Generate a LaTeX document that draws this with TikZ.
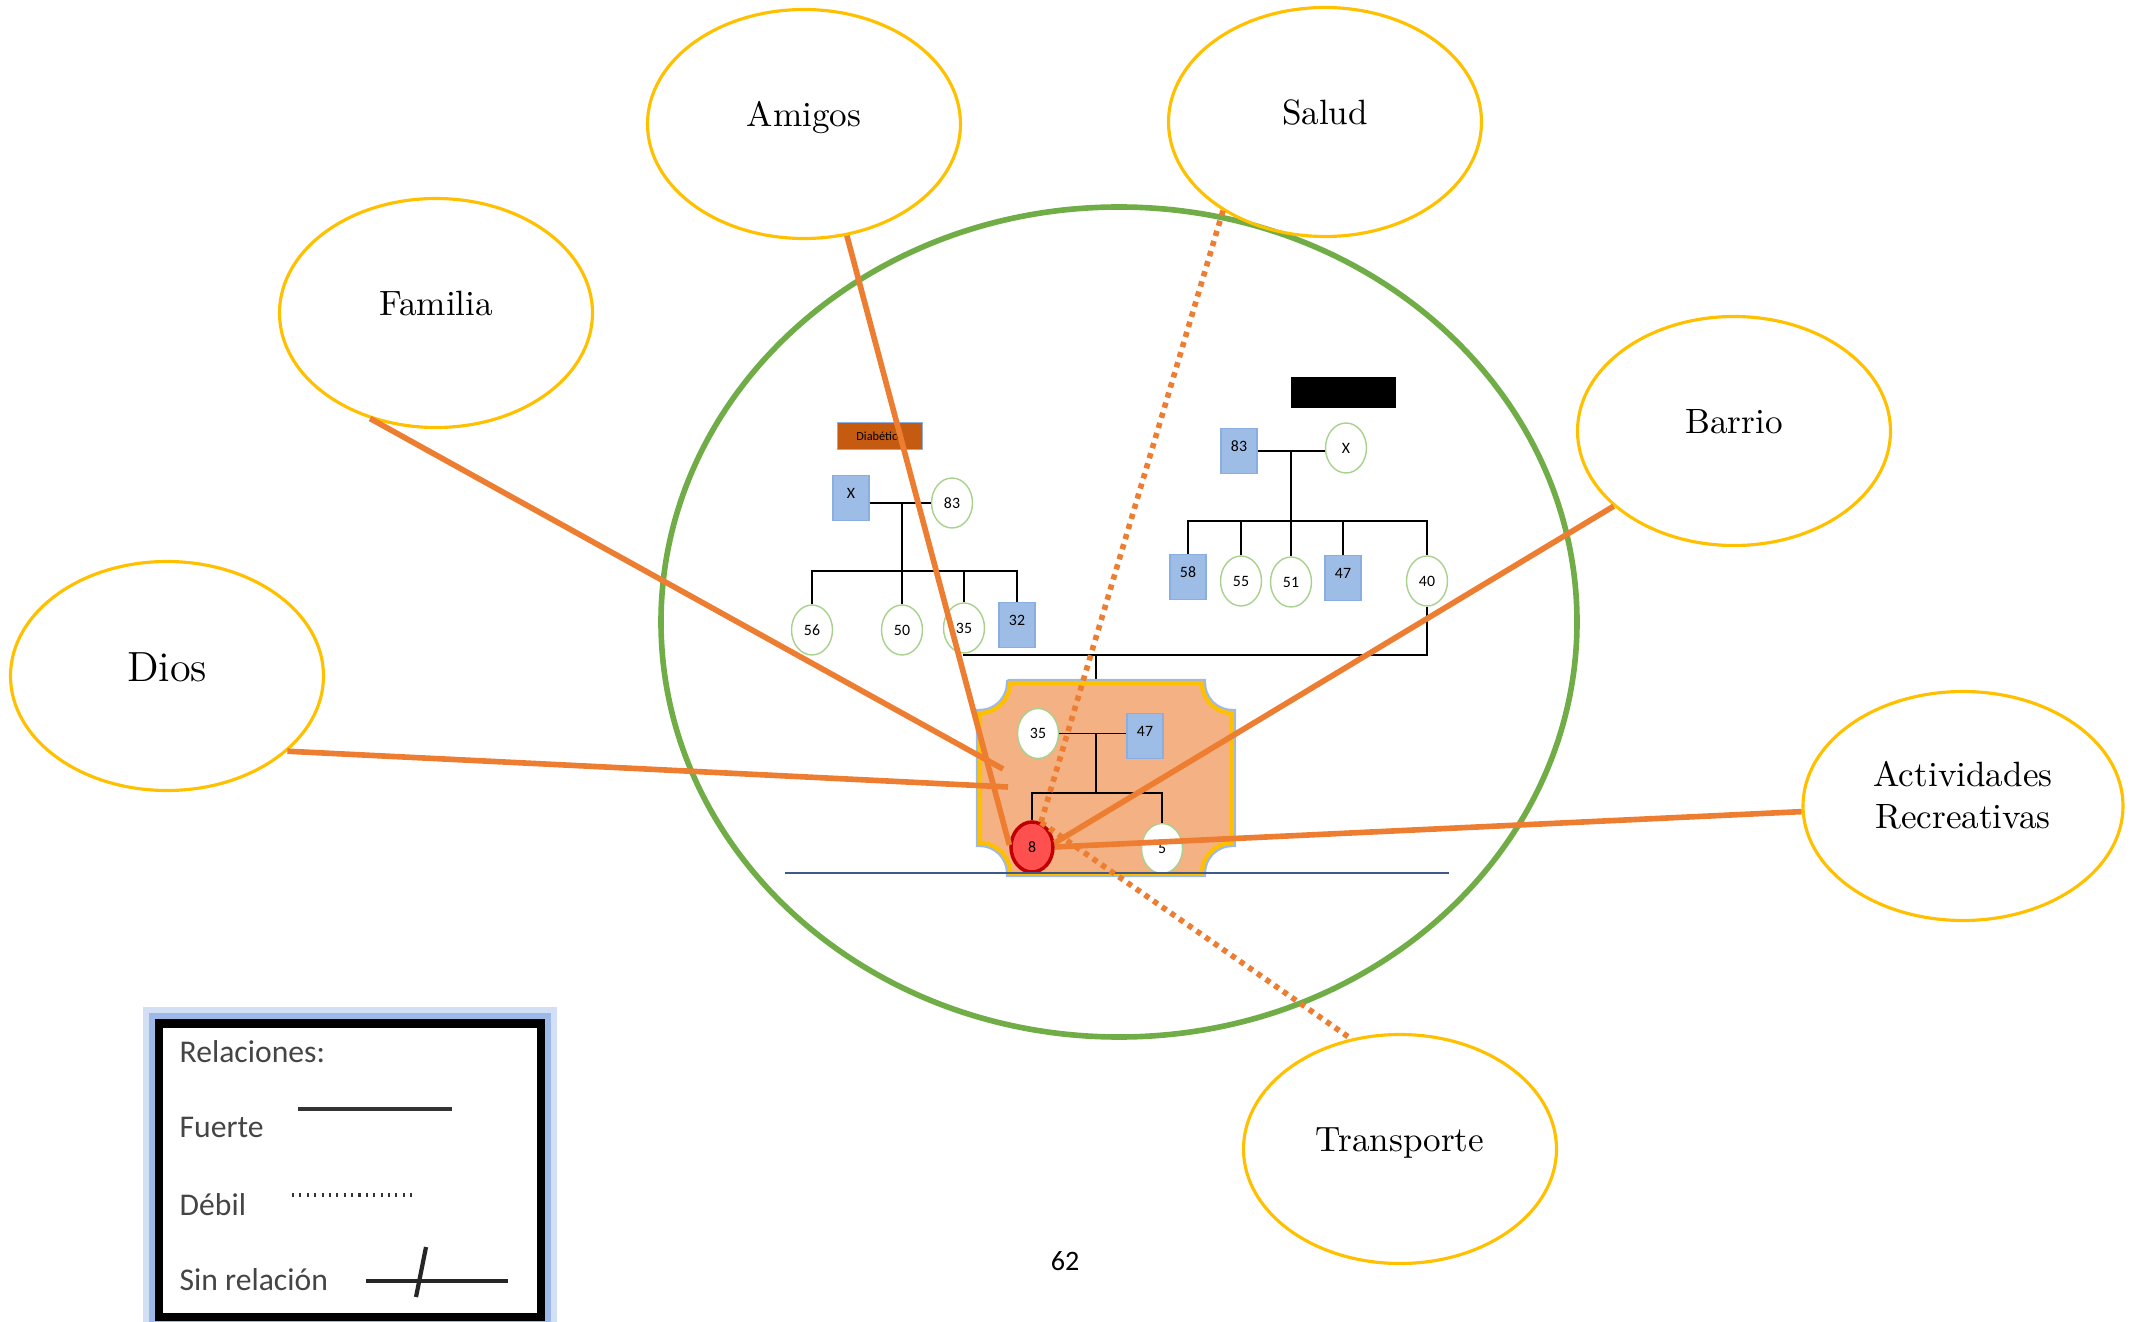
\documentclass[tikz,border=0pt]{standalone}
\usepackage{fontspec}
\newfontfamily\calibri{Carlito}
\usepackage{tikz}
\usetikzlibrary{shapes.geometric}
\definecolor{ecoorange}{HTML}{ED7D31}
\definecolor{ecogold}{HTML}{FFC000}
\definecolor{ecogreen}{HTML}{70AD47}
\definecolor{famfill}{HTML}{F4B183}
\definecolor{maleblue}{HTML}{9DBDE6}
\definecolor{maleedge}{HTML}{8AAEDF}
\definecolor{femedge}{HTML}{A9D18E}
\definecolor{egored}{HTML}{FF5050}
\definecolor{egoedge}{HTML}{C00000}
\definecolor{diabfill}{HTML}{C55A11}
\definecolor{groundline}{HTML}{3F5A8A}
\definecolor{glow}{HTML}{9DB9E8}
\definecolor{legendgray}{HTML}{454545}

\begin{document}
\begin{tikzpicture}[
  system/.style={draw=ecogold,ellipse,line width=0.9pt,minimum width=3.13cm,minimum height=2.29cm,inner sep=0pt,align=center,text height=7pt,text depth=5.6pt},
  male/.style={draw=maleedge,fill=maleblue,rectangle,line width=0.4pt,minimum width=0.36cm,minimum height=0.45cm,inner sep=0pt,text height=2.9pt,text depth=2.7pt,font=\calibri\fontsize{4.5}{5}\selectfont},
  female/.style={draw=femedge,fill=white,ellipse,line width=0.4pt,minimum width=0.41cm,minimum height=0.50cm,inner sep=0pt,font=\calibri\fontsize{4.5}{5}\selectfont},
  kin/.style={line width=0.5pt,black},
  strongtie/.style={ecoorange,line width=1.6pt},
  weaktie/.style={ecoorange,line width=1.6pt,dash pattern=on 1.5pt off 1.5pt},
  legendtxt/.style={anchor=base west,font=\calibri\fontsize{9}{11}\selectfont,text=legendgray,inner sep=0pt}
]
\useasboundingbox (0,0) rectangle (21.38,13.21);

% Ecomap circle
\node[draw=ecogreen,line width=1.6pt,ellipse,minimum width=9.16cm,minimum height=8.30cm,inner sep=0pt] (ecomap) at (11.19,6.99) {};

% Paternal side
\node[fill=diabfill,draw=maleedge,minimum width=0.85cm,minimum height=0.27cm,inner sep=0pt,font=\calibri\fontsize{3.5}{4}\selectfont] (diab) at (8.80,8.85) {Diabético};
\node[male] (lx) at (8.51,8.23) {X};
\node[female] (l83) at (9.52,8.18) {83};
\coordinate (lsib) at (9.02,7.50);
\node[female] (l56) at (8.12,6.91) {56};
\node[female] (l50) at (9.02,6.91) {50};
\node[female] (l35) at (9.64,6.93) {35};
\node[male] (l32) at (10.17,6.96) {32};
\draw[kin] (lx.east |- l83.west) -- (l83.west);
\draw[kin] (l50.north |- l83.west) -- (l50.north);
\draw[kin] (l56.north) -- (l56.north |- lsib) -- (l32.north |- lsib) -- (l32.north);
\draw[kin] (l35.north) -- (l35.north |- lsib);

% Maternal side
\node[fill=black,minimum width=1.05cm,minimum height=0.31cm,inner sep=0pt] (censor) at (13.43,9.28) {};
\node[male] (r83) at (12.39,8.70) {83};
\node[female] (rx) at (13.46,8.73) {X};
\coordinate (rsib) at (12.89,8.00);
\node[male] (r58) at (11.88,7.44) {58};
\node[female] (r55) at (12.41,7.40) {55};
\node[female] (r51) at (12.91,7.39) {51};
\node[male] (r47) at (13.43,7.43) {47};
\node[female] (r40) at (14.27,7.40) {40};
\draw[kin] (r83.east) -- (r83.east -| rx.west);
\draw[kin] (r51.north |- r83.east) -- (r51.north);
\draw[kin] (r58.north) -- (r58.north |- rsib) -- (r40.north |- rsib) -- (r40.north);
\draw[kin] (r55.north) -- (r55.north |- rsib);
\draw[kin] (r47.north) -- (r47.north |- rsib);

% Union and household
\coordinate (union) at (10.96,6.66);
\coordinate (hometop) at (10.96,6.38);
\draw[kin] (l35.south) |- (union) -| (r40.south);
\draw[kin] (union) -- (hometop);
\path[fill=famfill,draw=ecogold,line width=1.2pt,preaction={draw=glow,line width=2.4pt}]
  (10.10,6.38) -- (12.02,6.38) arc[start angle=180,end angle=270,radius=0.3]
  -- (12.32,4.78) arc[start angle=90,end angle=180,radius=0.3]
  -- (10.10,4.48) arc[start angle=0,end angle=90,radius=0.3]
  -- (9.80,6.08) arc[start angle=270,end angle=360,radius=0.3] -- cycle;
\node[female] (m35) at (10.38,5.875) {35};
\node[male] (m47) at (11.45,5.85) {47};
\node[female,fill=egored,draw=egoedge,line width=1pt,minimum width=0.42cm] (ego) at (10.32,4.74) {8};
\node[female] (m5) at (11.62,4.725) {5};
\coordinate (msib) at (10.96,5.28);
\draw[kin] (m35.east) -- (m35.east -| m47.west);
\draw[kin] (msib |- m35.east) -- (msib);
\draw[kin] (ego.north) -- (ego.north |- msib) -- (m5.north |- msib) -- (m5.north);
\draw[groundline,line width=0.6pt] (7.85,4.48) -- (14.49,4.48);

% Systems
\node[system] (amigos) at (8.04,11.97) {Amigos};
\node[system] (salud) at (13.25,11.99) {Salud};
\node[system] (familia) at (4.36,10.08) {Familia};
\node[system] (barrio) at (17.34,8.90) {Barrio};
\node[system,font=\large,text height=8.5pt,text depth=5.5pt] (dios) at (1.67,6.45) {Dios};
\node[system,minimum width=3.2cm,text height=18.9pt,text depth=6.2pt] (activ) at (19.63,5.15) {Actividades\\Recreativas};
\node[system] (transp) at (14.00,1.72) {Transporte};

% Relations
\coordinate (famEnd) at (10.03,5.52);
\coordinate (diosEnd) at (10.08,5.34);
\draw[strongtie] (amigos.291) -- (ego.175);
\draw[weaktie] (salud.221) -- (ego.70);
\draw[strongtie] (familia.238) -- (famEnd);
\draw[strongtie] (dios.328) -- (diosEnd);
\draw[strongtie] (barrio.212) -- (ego.10);
\draw[strongtie] (activ.182) -- (ego.east);
\draw[weaktie] (ego.70) -- (transp.114);

% Legend
\draw[glow!45,line width=3.2pt] (1.49,3.08) rectangle (5.51,-0.07);
\draw[glow,line width=2pt] (1.53,3.04) rectangle (5.47,-0.03);
\draw[black,line width=2.4pt,fill=white] (1.59,2.975) rectangle (5.41,0.04);
\node[legendtxt] (lgtitle) at (1.79,2.59) {Relaciones:};
\node[legendtxt] (lgstrong) at (1.79,1.84) {Fuerte};
\node[legendtxt] (lgweak) at (1.79,1.06) {Débil};
\node[legendtxt] (lgnone) at (1.79,0.31) {Sin relación};
\draw[black!80,line width=1.4pt] (2.98,2.12) -- (4.52,2.12);
\draw[black!80,line width=0.9pt,dash pattern=on 0.6pt off 1.5pt] (2.92,1.26) -- (4.12,1.26);
\draw[black!85,line width=1.2pt] (3.66,0.40) -- (5.08,0.40);
\draw[black!85,line width=1.2pt] (4.26,0.74) -- (4.16,0.24);

\node[font=\calibri\fontsize{8}{10}\selectfont] (page) at (10.65,0.60) {62};
\end{tikzpicture}
\end{document}
